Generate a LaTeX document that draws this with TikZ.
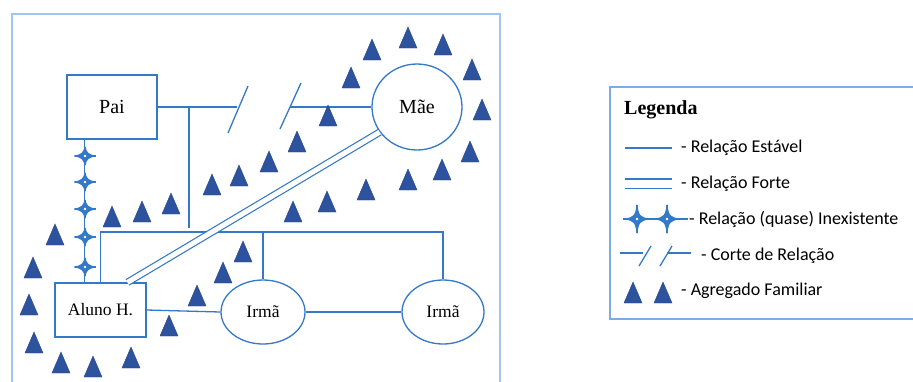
\documentclass[tikz,border=0pt]{standalone}
\usepackage{fontspec}
\setmainfont{Liberation Serif}
\newfontfamily\legfont{Carlito}
\usetikzlibrary{shapes.geometric}

\definecolor{relblue}{RGB}{52,120,200}
\definecolor{agblue}{RGB}{45,82,158}
\definecolor{framecol}{RGB}{160,198,235}
\definecolor{legframe}{RGB}{125,172,225}

\tikzset{
  rel/.style={draw=relblue, line width=1.3pt},
  strong/.style={draw=relblue, line width=1.2pt, double=white, double distance=#1},
  person/.style={rel, fill=white, inner sep=0pt, font=\fontsize{#1}{#1}\selectfont},
  pbox/.style={person=#1, rectangle},
  pell/.style={person=#1, ellipse},
  legtext/.style={anchor=west, inner sep=0pt, font=\legfont\fontsize{18}{18}\selectfont},
  pics/agregado/.style={code={
    \filldraw[fill=agblue, draw=agblue!85!black, line width=0.4pt]
      (-9,10) -- (9,10) -- (0,-11) -- cycle;}},
  % four-pointed sparkle: half width #1, half height #2
  pics/quase/.style 2 args={code={
    \filldraw[draw=relblue, fill=relblue, line width=1pt, line join=round]
      (0,-#2) .. controls (1.2,-3.2) and (3.2,-1.2) .. (#1,0)
      .. controls (3.2,1.2) and (1.2,3.2) .. (0,#2)
      .. controls (-1.2,3.2) and (-3.2,1.2) .. (-#1,0)
      .. controls (-3.2,-1.2) and (-1.2,-3.2) .. (0,-#2) -- cycle;
    \draw[relblue, line width=1.5pt] (0,-#2) -- (0,#2) (-#1,0) -- (#1,0);
    \fill[white] (0,0) circle[radius=1.4];}}
}

\begin{document}
\begin{tikzpicture}[x=1pt, y=-1pt]
\useasboundingbox (0,0) rectangle (913,381);
\clip (0,0) rectangle (913,381);

% outer frame of the genogram
\draw[framecol, line width=1.6pt] (12,14) rectangle (500,395);

% family members
\node[pbox=20, minimum width=90, minimum height=64] (pai) at (112,107) {Pai};
\node[pell=20, minimum width=90, minimum height=86] (mae) at (417,107) {Mãe};
\node[pbox=17.5, minimum width=91, minimum height=54] (aluno) at (100.5,310) {Aluno H.};
\node[pell=17.5, minimum width=84, minimum height=64] (irma1) at (263,312) {Irmã};
\node[pell=17.5, minimum width=82, minimum height=64] (irma2) at (443,312) {Irmã};

% broken relation between Pai and Mãe
\coordinate (cutA) at (237,107);
\coordinate (cutB) at (290,107);
\coordinate (paiV) at (189,228);
\coordinate (famR) at (443,232);
\draw[rel] (pai.east) -- (cutA);
\draw[rel] ([shift={(-9,26)}]cutA) -- ([shift={(11,-21)}]cutA);
\draw[rel] ([shift={(-10,22)}]cutB) -- ([shift={(11,-24)}]cutB);
\draw[rel] (cutB) -- (mae.west);
\draw[rel] (paiV |- pai.east) -- (paiV);

% sibling line
\draw[rel] (aluno.north) |- (famR) -- (irma2.north);
\draw[rel] (irma1.north) -- (irma1.north |- famR);
\draw[rel] (aluno.east) -- (irma1.west);
\draw[rel] (irma1.east) -- (irma2.west);

% strong relation Aluno H. -- Mãe
\draw[strong=5pt] ([xshift=27]aluno.north) -- (mae.214);

% (almost) non-existent relation Pai -- Aluno H.
\draw[rel] ([xshift=18]pai.south west) -- ([xshift=30]aluno.north west);
\foreach \y in {156,182,209,237,267}
  \pic at (85,\y) {quase={10.5}{9}};

% household members
\foreach \p in {(372,50),(408,38),(443,45),(472,70),(482,110),(470,152),
                (442,170),(408,180),(366,190),(327,202),(293,212),(351,78),
                (328,116),(297,142),(269,162),(239,176),(212,185),
                (171,204),(142,212),(112,217),(55,235),(33,268),(29,305),
                (34,343),(61,363),(93,367),(131,358),(169,326),(197,296),
                (223,273),(243,252)}
  \pic at \p {agregado};

% legend
\draw[legframe, line width=1.4pt] (610,87) rectangle (920,319);
\node[anchor=west, inner sep=0pt, font=\bfseries\fontsize{20}{20}\selectfont]
  (legtitle) at (624,110) {Legenda};

\coordinate (l1a) at (625,148); \coordinate (l1b) at (672,148);
\draw[rel] (l1a) -- (l1b);
\node[legtext] (leg1) at (681,148) {- Relação Estável};

\coordinate (l2a) at (625,183.5); \coordinate (l2b) at (672,183.5);
\draw[strong=8pt] (l2a) -- (l2b);
\node[legtext] (leg2) at (681,184) {- Relação Forte};

\coordinate (l3a) at (623,219); \coordinate (l3b) at (688,219);
\draw[rel] (l3a) -- (l3b);
\pic at (637,219) {quase={12.5}{14}};
\pic at (667,219) {quase={12.5}{14}};
\node[legtext] (leg3) at (689,219) {- Relação (quase) Inexistente};

\coordinate (l4a) at (620,253); \coordinate (l4b) at (643,253);
\coordinate (l4c) at (667,253); \coordinate (l4d) at (691,253);
\draw[rel] (l4a) -- (l4b);
\draw[rel] (639,266) -- (651,246);
\draw[rel] (660,266) -- (672,246);
\draw[rel] (l4c) -- (l4d);
\node[legtext] (leg4) at (701,256) {- Corte de Relação};

\pic at (633,293) {agregado};
\pic at (663,293) {agregado};
\node[legtext] (leg5) at (681,291) {- Agregado Familiar};
\end{tikzpicture}
\end{document}
